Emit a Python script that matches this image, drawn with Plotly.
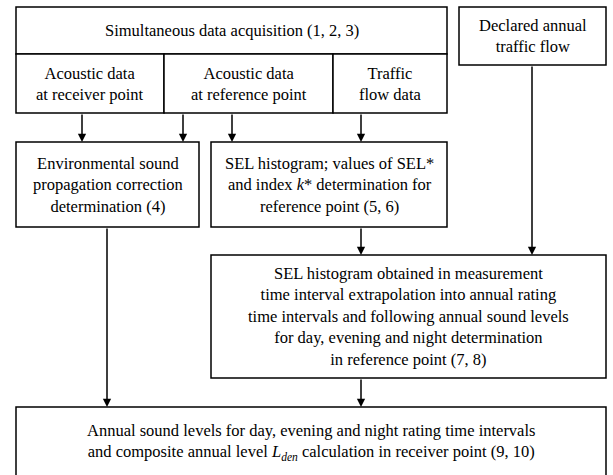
import plotly.graph_objects as go

# ---- content ----
box_labels = [
    "Simultaneous data acquisition (1, 2, 3)",
    "Acoustic data<br>at receiver point",
    "Acoustic data<br>at reference point",
    "Traffic<br>flow data",
    "Declared annual<br>traffic flow",
    "Environmental sound<br>propagation correction<br>determination (4)",
    "SEL histogram; values of SEL*<br>and index <i>k</i>* determination for<br>reference point (5, 6)",
    "SEL histogram obtained in measurement<br>time interval extrapolation into annual rating<br>time intervals and following annual sound levels<br>for day, evening and night determination<br>in reference point (7, 8)",
    "Annual sound levels for day, evening and night rating time intervals<br>and composite annual level <i>L</i><sub><i>den</i></sub> calculation in receiver point (9, 10)",
]

# ---- geometry (x0, y0, x1, y1) in page-like units ----
box_geom = [
    (16, 7, 447, 54),
    (16, 54, 164, 113),
    (164, 54, 333, 113),
    (333, 54, 447, 113),
    (459, 7, 606, 65),
    (16, 142, 199, 227),
    (211, 142, 447, 227),
    (211, 255, 606, 378),
    (16, 407, 606, 477),
]

# arrows: (x, y_from, y_to)
arrow_geom = [
    (82, 113, 142),
    (183, 113, 142),
    (232, 113, 142),
    (361, 113, 142),
    (361, 227, 255),
    (532, 65, 255),
    (107, 227, 407),
    (361, 378, 407),
]

FONT = dict(family="Liberation Serif", size=16.5, color="black")
LW = 1.5

fig = go.Figure()
shapes = []
annotations = []
for (x0, y0, x1, y1), lab in zip(box_geom, box_labels):
    shapes.append(dict(type="rect", xref="x", yref="y", x0=x0, y0=y0, x1=x1, y1=y1,
                       line=dict(color="black", width=LW), fillcolor="white", layer="above"))
    annotations.append(dict(x=(x0 + x1) / 2, y=(y0 + y1) / 2, xref="x", yref="y",
                            text=lab, showarrow=False, font=FONT, align="center",
                            xanchor="center", yanchor="middle"))

for x, ya, yb in arrow_geom:
    annotations.append(dict(x=x, y=yb, ax=x, ay=ya, xref="x", yref="y", axref="x", ayref="y",
                            text="", showarrow=True, arrowhead=2, arrowsize=1.1,
                            arrowwidth=LW, arrowcolor="black", standoff=0, startstandoff=0))

fig.update_layout(
    width=613, height=475,
    margin=dict(l=0, r=0, t=0, b=0),
    paper_bgcolor="white", plot_bgcolor="white",
    xaxis=dict(range=[0, 613], visible=False, fixedrange=True),
    yaxis=dict(range=[475, 0], visible=False, fixedrange=True),
    shapes=shapes, annotations=annotations, showlegend=False,
)
fig.write_html("out.html", config={"displayModeBar": False},
               post_script="document.body.style.margin='0';")
